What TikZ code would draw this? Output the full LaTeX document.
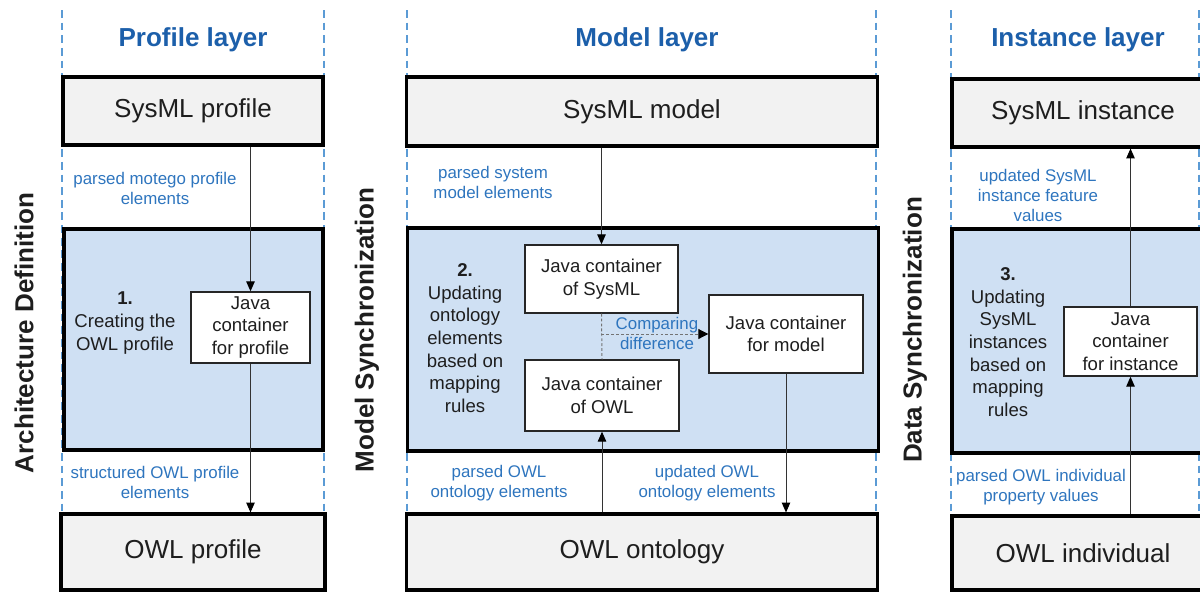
\documentclass[tikz,border=0pt]{standalone}
\usepackage{fontspec}
\setmainfont{Liberation Sans}
\usetikzlibrary{arrows.meta}

\definecolor{layerblue}{RGB}{28,95,170}
\definecolor{flowblue}{RGB}{46,117,190}
\definecolor{guideblue}{RGB}{91,155,213}
\definecolor{stagefill}{RGB}{207,224,243}
\definecolor{endfill}{RGB}{242,242,242}
\definecolor{inkgray}{RGB}{30,30,30}

\tikzset{
  layertitle/.style={text=layerblue, font=\bfseries\fontsize{18.5}{22}\selectfont},
  sidetitle/.style={rotate=90, text=inkgray, font=\bfseries\fontsize{18.5}{22}\selectfont},
  endbox/.style={draw=black, line width=2.2pt, fill=endfill, text=inkgray,
    font=\fontsize{18.5}{22}\selectfont, inner sep=0pt},
  stagebox/.style={draw=black, line width=2.2pt, fill=stagefill, inner sep=0pt},
  javabox/.style={draw=black!85, line width=1pt, fill=white, text=inkgray, align=center,
    font=\fontsize{13.2}{16}\selectfont, inner sep=0pt},
  steptext/.style={text=inkgray, align=center, font=\fontsize{13.2}{16.1}\selectfont},
  flowlabel/.style={text=flowblue, align=center, font=\fontsize{12}{14.2}\selectfont},
  flow/.style={draw=black!80, line width=0.7pt, -{Triangle[length=7pt,width=6pt,color=black]}},
  compare/.style={draw=black!55, line width=0.7pt, dash pattern=on 2pt off 1.5pt},
  guide/.style={draw=guideblue, line width=1pt, dash pattern=on 5.5pt off 3.5pt},
}

\begin{document}
\begin{tikzpicture}[x=0.025cm, y=-0.025cm]
  \useasboundingbox (0,0) rectangle (1200,592);
  \clip (0,0) rectangle (1200,592);

  % layer borders
  \foreach \gx in {62,324,407,876,951,1199}
    \draw[guide] (\gx,10) -- (\gx,592);

  % layer titles
  \node[layertitle] (proftitle) at (193,40) {Profile layer};
  \node[layertitle] (modeltitle) at (647,40) {Model layer};
  \node[layertitle] (insttitle) at (1078,40) {Instance layer};

  % side titles
  \node[sidetitle] (archside) at (24,333) {Architecture Definition};
  \node[sidetitle] (modelside) at (367,330) {Model Synchronization};
  \node[sidetitle] (dataside) at (915,330) {Data Synchronization};

  % profile layer
  \node[endbox, minimum width=6.5cm, minimum height=1.7cm] (sysprof) at (193,111) {SysML profile};
  \node[stagebox, minimum width=6.475cm, minimum height=5.525cm] (profstage) at (193.5,339.5) {};
  \node[javabox, minimum width=2.975cm, minimum height=1.775cm] (javaprof) at (250.5,327.5)
    {Java\\container\\for profile};
  \node[steptext] (profstep) at (125,323) {\textbf{1.}\\Creating the\\OWL profile};
  \node[endbox, minimum width=6.6cm, minimum height=1.9cm] (owlprof) at (193,552) {OWL profile};
  \node[flowlabel] (profin) at (155,188) {parsed motego profile\\elements};
  \node[flowlabel] (profout) at (155,482) {structured OWL profile\\elements};
  \draw[flow] (javaprof.north |- sysprof.south) -- (javaprof.north);
  \draw[flow] (javaprof.south) -- (javaprof.south |- owlprof.north);

  % model layer
  \node[endbox, minimum width=11.75cm, minimum height=1.725cm] (sysmodel) at (642,111.5) {SysML model};
  \node[stagebox, minimum width=11.75cm, minimum height=5.575cm] (modelstage) at (643,339.5) {};
  \node[javabox, minimum width=3.825cm, minimum height=1.7cm] (javasys) at (601.5,279)
    {Java container\\of SysML};
  \node[javabox, minimum width=3.85cm, minimum height=1.775cm] (javaowl) at (602,395.5)
    {Java container\\of OWL};
  \node[javabox, minimum width=3.85cm, minimum height=1.95cm] (javamodel) at (786,334)
    {Java container\\for model};
  \node[steptext] (modelstep) at (465,338)
    {\textbf{2.}\\Updating\\ontology\\elements\\based on\\mapping\\rules};
  \node[endbox, minimum width=11.75cm, minimum height=1.9cm] (owlonto) at (642,552) {OWL ontology};
  \node[flowlabel] (modelin) at (493,182) {parsed system\\model elements};
  \node[flowlabel] (ontoin) at (499,483) {parsed OWL\\ontology elements};
  \node[flowlabel] (ontoout) at (707,483) {updated OWL\\ontology elements};
  \draw[flow] (javasys.north |- sysmodel.south) -- (javasys.north);
  \draw[flow] (javaowl.south |- owlonto.north) -- (javaowl.south);
  \draw[flow] (javamodel.south) -- (javamodel.south |- owlonto.north);
  \draw[compare] (javasys.south) -- (javaowl.north);
  \draw[compare, -{Triangle[length=7pt,width=7pt,color=black]}] (javasys.south |- javamodel.west) -- (javamodel.west);
  \node[flowlabel] (cmplabel) at (657,333) {Comparing\\difference};

  % instance layer
  \node[endbox, minimum width=6.55cm, minimum height=1.7cm] (sysinst) at (1083,113) {SysML instance};
  \node[stagebox, minimum width=6.55cm, minimum height=5.6cm] (inststage) at (1083,341) {};
  \node[javabox, minimum width=3.325cm, minimum height=1.725cm] (javainst) at (1130.5,341.5)
    {Java\\container\\for instance};
  \node[steptext] (inststep) at (1008,342)
    {\textbf{3.}\\Updating\\SysML\\instances\\based on\\mapping\\rules};
  \node[endbox, minimum width=6.55cm, minimum height=1.85cm] (owlind) at (1083,553) {OWL individual};
  \node[flowlabel] (instout) at (1038,195) {updated SysML\\instance feature\\values};
  \node[flowlabel] (indin) at (1041,487) {parsed OWL individual\\property values};
  \draw[flow] (javainst.north) -- (javainst.north |- sysinst.south);
  \draw[flow] (javainst.south |- owlind.north) -- (javainst.south);
\end{tikzpicture}
\end{document}
